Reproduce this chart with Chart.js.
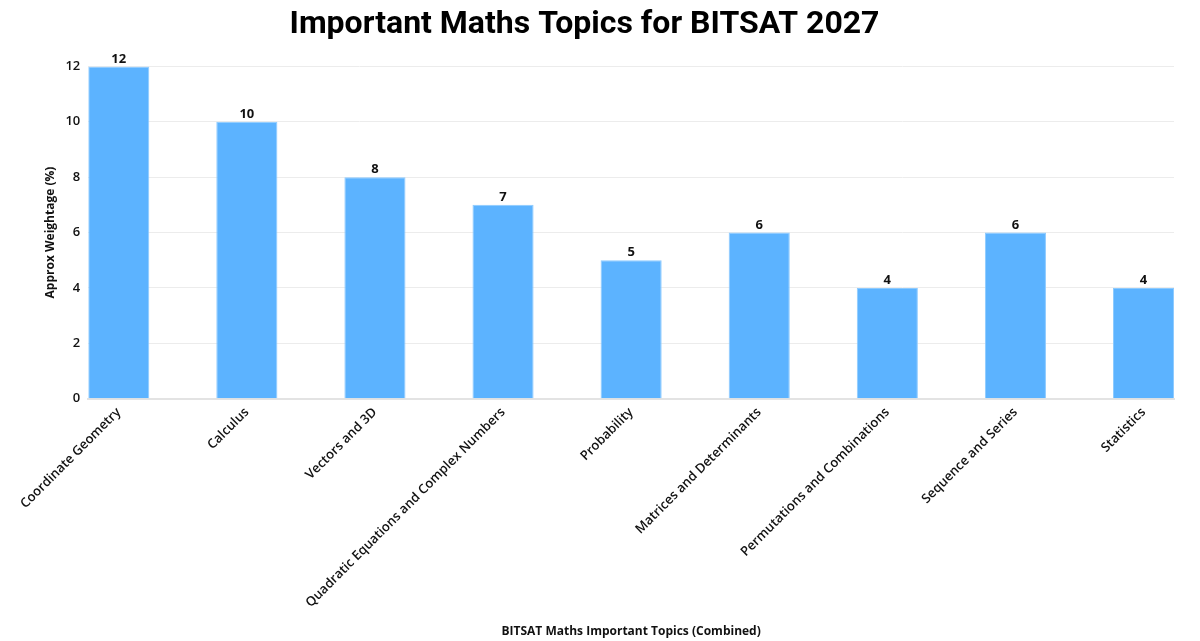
<!DOCTYPE html>
<html>
<head>
<meta charset="utf-8">
<script src="https://cdn.jsdelivr.net/npm/chart.js@4.4.1/dist/chart.umd.min.js"></script>
<style>
html,body{margin:0;padding:0;background:#fff;}
#wrap{width:1200px;height:641px;position:relative;}
</style>
</head>
<body>
<div id="wrap"><canvas id="c"></canvas></div>
<script>
const chartTitle = "Important Maths Topics for BITSAT 2027";
const xAxisTitle = "BITSAT Maths Important Topics (Combined)";
const yAxisTitle = "Approx Weightage (%)";
const categories = ["Coordinate Geometry","Calculus","Vectors and 3D","Quadratic Equations and Complex Numbers","Probability","Matrices and Determinants","Permutations and Combinations","Sequence and Series","Statistics"];
const weightage = [12,10,8,7,5,6,4,6,4];
const yTicks = [0,2,4,6,8,10,12];

const points = categories.map((c, i) => ({x: i, y: weightage[i]}));

const valueLabels = {
  id: 'valueLabels',
  afterLayout(chart) {
    const t = chart.titleBlock;
    if (t) { t.left -= 22; t.right -= 22; }
  },
  afterDatasetsDraw(chart) {
    const ctx = chart.ctx;
    const meta = chart.getDatasetMeta(0);
    ctx.save();
    ctx.font = '700 13px "Open Sans"';
    ctx.fillStyle = '#111';
    ctx.textAlign = 'center';
    ctx.textBaseline = 'bottom';
    meta.data.forEach((el, i) => {
      ctx.fillText(String(weightage[i]), el.x, el.y - 1);
    });
    ctx.restore();
  }
};

new Chart(document.getElementById('c'), {
  type: 'bar',
  data: {
    datasets: [{
      data: points,
      backgroundColor: '#5cb3ff',
      borderColor: '#8ccaff',
      borderWidth: 1,
      categoryPercentage: 1,
      barPercentage: 0.477
    }]
  },
  options: {
    responsive: true,
    maintainAspectRatio: false,
    animation: false,
    layout: { padding: { left: 39, right: 26, top: 0, bottom: 2 } },
    plugins: {
      legend: { display: false },
      tooltip: { enabled: false },
      title: {
        display: true,
        text: chartTitle,
        color: '#000',
        font: { family: 'Roboto', size: 32, weight: '700' },
        padding: { top: 6, bottom: 22 }
      }
    },
    scales: {
      x: {
        type: 'linear',
        offset: false,
        min: -0.238,
        max: 8.238,
        afterBuildTicks: s => { s.ticks = categories.map((_, i) => ({ value: i })); },
        afterFit: s => {
          s.paddingLeft = 0; s.paddingRight = 0;
          if (s._margins) { s._margins.left = 0; s._margins.right = 0; }
        },
        grid: { display: false, drawTicks: false, offset: false },
        border: { color: '#e3e3e3', width: 2 },
        ticks: {
          autoSkip: false,
          minRotation: 45,
          maxRotation: 45,
          padding: 6,
          color: '#111',
          font: { family: '"Open Sans"', size: 13, weight: '600' },
          callback: v => categories[v] !== undefined ? categories[v] : ''
        },
        title: {
          display: true,
          text: xAxisTitle,
          color: '#111',
          font: { family: '"Open Sans"', size: 12, weight: '700' },
          padding: { top: 8, bottom: 0 }
        }
      },
      y: {
        min: 0,
        max: 12,
        afterBuildTicks: s => { s.ticks = yTicks.map(v => ({ value: v })); },
        grid: { color: '#ececec', lineWidth: 1, drawTicks: false },
        border: { display: false },
        ticks: {
          padding: 8,
          color: '#111',
          font: { family: '"Open Sans"', size: 13, weight: '600' }
        },
        title: {
          display: true,
          text: yAxisTitle,
          color: '#111',
          font: { family: '"Open Sans"', size: 12, weight: '700' },
          padding: { top: 4, bottom: 0 }
        }
      }
    }
  },
  plugins: [valueLabels]
});
</script>
</body>
</html>
